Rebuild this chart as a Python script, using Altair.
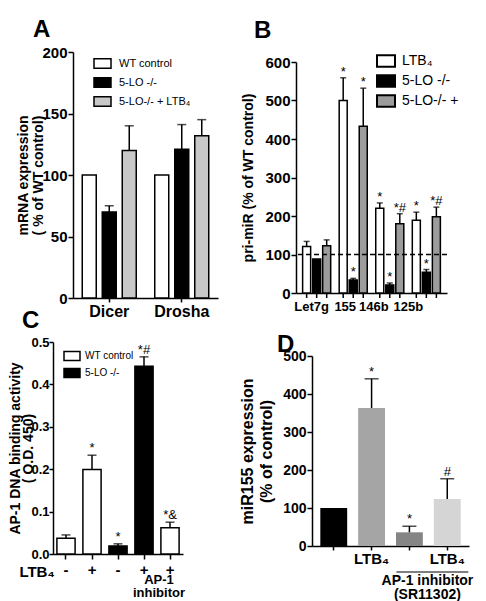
import altair as alt
import pandas as pd

FONT = "Liberation Sans"

# ---------------- Panel A ----------------
a_groups = ["Dicer", "Drosha"]
a_series = ["WT control", "5-LO -/-", "5-LO-/- + LTB₄"]
a_colors = ["#ffffff", "#000000", "#c8c8c8"]
a_dicer = [100, 70, 120]
a_dicer_err = [None, 75, 140]
a_drosha = [100, 121, 132]
a_drosha_err = [None, 141, 145]
a_ticks = [0, 50, 100, 150, 200]

# ---------------- Panel B ----------------
b_groups = ["Let7g", "155", "146b", "125b"]
b_series = ["LTB₄", "5-LO -/-", "5-LO-/- +"]
b_colors = ["#ffffff", "#000000", "#9c9c9c"]
b_ltb4 = [121, 500, 220, 189]
b_ltb4_err = [134, 559, 234, 210]
b_ltb4_sig = ["", "*", "*", "*"]
b_ko = [88, 34, 21, 54]
b_ko_err = [None, 38, 26, 61]
b_ko_sig = ["", "*", "*", "*"]
b_ko_ltb4 = [123, 433, 180, 198]
b_ko_ltb4_err = [138, 532, 206, 223]
b_ko_ltb4_sig = ["", "*", "*#", "*#"]
b_ticks = [0, 100, 200, 300, 400, 500, 600]
b_reference = 100

# ---------------- Panel C ----------------
c_keys = ["WT", "WT + LTB4", "5-LO", "5-LO + LTB4", "WT + LTB4 + AP-1 inhibitor"]
c_ltb4_sign = ["-", "+", "-", "+", "+"]
c_genotype = ["WT control", "WT control", "5-LO -/-", "5-LO -/-", "WT control"]
c_series = ["WT control", "5-LO -/-"]
c_colors = ["#ffffff", "#000000"]
c_values = [0.037, 0.199, 0.019, 0.443, 0.062]
c_err = [0.045, 0.233, 0.024, 0.465, 0.075]
c_sig = ["", "*", "*", "*#", "*&"]
c_ticks = [0.0, 0.1, 0.2, 0.3, 0.4, 0.5]
c_row_label = "LTB₄"
c_note_key = "WT + LTB4 + AP-1 inhibitor"
c_note = "AP-1\ninhibitor"

# ---------------- Panel D ----------------
d_keys = ["Control", "LTB4", "AP-1 inhibitor", "AP-1 inhibitor + LTB4"]
d_labels = ["", "LTB₄", "", "LTB₄"]
d_values = [100, 363, 36, 124]
d_err = [None, 440, 52, 177]
d_sig = ["", "*", "*", "#"]
d_colors = ["#000000", "#a5a5a5", "#858585", "#d5d5d5"]
d_ticks = [0, 100, 200, 300, 400, 500]
d_bracket = ["AP-1 inhibitor", "AP-1 inhibitor + LTB4"]
d_bracket_label = "AP-1 inhibitor\n(SR11302)"


def top_of(v, e):
    return e if e is not None else v


# ---------- tables ----------
recA = []
for g, vals, errs in zip(a_groups, [a_dicer, a_drosha], [a_dicer_err, a_drosha_err]):
    for s, v, e in zip(a_series, vals, errs):
        recA.append({"group": g, "series": s, "value": v, "err": e, "top": top_of(v, e)})
dfA = pd.DataFrame(recA)

recB = []
for i, g in enumerate(b_groups):
    for s, vals, errs, sigs in zip(
        b_series,
        [b_ltb4, b_ko, b_ko_ltb4],
        [b_ltb4_err, b_ko_err, b_ko_ltb4_err],
        [b_ltb4_sig, b_ko_sig, b_ko_ltb4_sig],
    ):
        recB.append({"group": g, "series": s, "value": vals[i], "err": errs[i],
                     "top": top_of(vals[i], errs[i]), "sig": sigs[i]})
dfB = pd.DataFrame(recB)

dfC = pd.DataFrame({"key": c_keys, "geno": c_genotype, "value": c_values, "err": c_err,
                    "top": [top_of(v, e) for v, e in zip(c_values, c_err)], "sig": c_sig})
dfCnote = pd.DataFrame({"key": [c_note_key], "note": [c_note]})
dfCrow = pd.DataFrame({"key": [c_keys[0]], "note": [c_row_label]})

dfD = pd.DataFrame({"key": d_keys, "value": d_values, "err": d_err,
                    "top": [top_of(v, e) for v, e in zip(d_values, d_err)], "sig": d_sig})
dfDbr = pd.DataFrame({"key": [d_bracket[0]], "key2": [d_bracket[1]], "note": [d_bracket_label]})


def label_expr(keys, labels):
    ks = ",".join("'" + k + "'" for k in keys)
    ls = ",".join("'" + l + "'" for l in labels)
    return f"[{ls}][indexof([{ks}], datum.value)]"


# ================= Panel A =================
xA = alt.X("group:N", sort=a_groups,
           scale=alt.Scale(paddingInner=0.2, paddingOuter=0.1),
           axis=alt.Axis(title=None, labelAngle=0, labelFontSize=16, tickSize=4, labelPadding=1))
xoA = alt.XOffset("series:N", sort=a_series, scale=alt.Scale(paddingInner=0.3, paddingOuter=0.1))
axA = alt.Axis(values=a_ticks, title=["mRNA expression", "( % of WT control)"], titlePadding=-4,
               labelFontSize=15, labelPadding=1, titleFontSize=14, titleLineHeight=15)
scA = alt.Scale(domain=[0, 200])
baseA = alt.Chart(dfA)
barsA = baseA.mark_bar(stroke="black", strokeWidth=1.5).encode(
    x=xA, xOffset=xoA, y=alt.Y("value:Q", scale=scA, axis=axA),
    fill=alt.Fill("series:N", sort=a_series, scale=alt.Scale(domain=a_series, range=a_colors),
                  legend=alt.Legend(title=None, orient="none", legendX=20, legendY=2,
                                    symbolType="M-1,-0.55H1V0.55H-1Z", symbolSize=289,
                                    symbolStrokeColor="black", symbolStrokeWidth=1.5,
                                    labelFont=FONT, labelFontSize=11, labelColor="black",
                                    rowPadding=1, padding=0, labelOffset=7)))
errA = baseA.transform_filter("isValid(datum.err)").mark_rule(color="black", strokeWidth=1.5).encode(
    x=xA, xOffset=xoA, y=alt.Y("value:Q", scale=scA, axis=axA), y2="err:Q")
capA = baseA.transform_filter("isValid(datum.err)").mark_tick(
    orient="horizontal", size=9, thickness=1.5, color="black").encode(
    x=xA, xOffset=xoA, y=alt.Y("err:Q", scale=scA, axis=axA))
A = alt.layer(barsA, errA, capA).properties(
    width=145, height=246,
    title=alt.TitleParams("A", anchor="start", frame="group", dx=-40, offset=3))

# ================= Panel B =================
xB = alt.X("group:N", sort=b_groups,
           scale=alt.Scale(paddingInner=0.15, paddingOuter=0.14),
           axis=alt.Axis(title=None, labelAngle=0, ticks=False, offset=-5, labelFontSize=13,
                         labelPadding=7,
                         labelOffset={"condition": [
                             {"test": "datum.value === '155'", "value": -8},
                             {"test": "datum.value === '146b'", "value": -16},
                             {"test": "datum.value === '125b'", "value": -18}],
                             "value": -5}))
xoB = alt.XOffset("series:N", sort=b_series, scale=alt.Scale(paddingInner=0.2, paddingOuter=0.15))
scB = alt.Scale(domain=[0, 600], range=[241, 10])
axB = alt.Axis(values=b_ticks, title="pri-miR (% of WT control)", titlePadding=9,
               labelFontSize=15, labelPadding=1, titleFontSize=14)
baseB = alt.Chart(dfB)
barsB = baseB.mark_bar(stroke="black", strokeWidth=1.5).encode(
    x=xB, xOffset=xoB, y=alt.Y("value:Q", scale=scB, axis=axB),
    fill=alt.Fill("series:N", sort=b_series, scale=alt.Scale(domain=b_series, range=b_colors),
                  legend=alt.Legend(title=None, orient="none", legendX=80, legendY=-1,
                                    symbolType="M-1,-0.65H1V0.65H-1Z", symbolSize=324,
                                    symbolStrokeColor="black", symbolStrokeWidth=2,
                                    labelFont=FONT, labelFontSize=14, labelColor="black",
                                    rowPadding=0, padding=0, labelOffset=6)))
errB = baseB.transform_filter("isValid(datum.err)").mark_rule(color="black", strokeWidth=1.5).encode(
    x=xB, xOffset=xoB, y=alt.Y("value:Q", scale=scB, axis=axB), y2="err:Q")
capB = baseB.transform_filter("isValid(datum.err)").mark_tick(
    orient="horizontal", size=6, thickness=1.5, color="black").encode(
    x=xB, xOffset=xoB, y=alt.Y("err:Q", scale=scB, axis=axB))
sigB = baseB.mark_text(baseline="alphabetic", dy=-2, fontSize=13, color="black").encode(
    x=xB, xOffset=xoB, y=alt.Y("top:Q", scale=scB, axis=axB), text="sig:N")
tickB = baseB.mark_rule(color="black", strokeWidth=1.5).encode(
    x=xB, xOffset=xoB, y=alt.datum(0), y2=alt.datum(-13))
refB = alt.Chart(pd.DataFrame({"ref": [b_reference]})).mark_rule(
    color="black", strokeWidth=1.5, strokeDash=[5, 3]).encode(y=alt.Y("ref:Q", scale=scB, axis=axB))
B = alt.layer(barsB, errB, capB, sigB, tickB, refB).properties(
    width=151, height=246,
    title=alt.TitleParams("B", anchor="start", frame="group", dx=-42, offset=8))

# ================= Panel C =================
xC = alt.X("key:N", sort=c_keys,
           scale=alt.Scale(range=[-20, 110], paddingInner=0.3, paddingOuter=0.15),
           axis=alt.Axis(title=None, labelAngle=0,
                         labelExpr=label_expr(c_keys, c_ltb4_sign), labelFontSize=15,
                         labelPadding=3))
scC = alt.Scale(domain=[0, 0.5])
axC = alt.Axis(values=c_ticks, format=".1f", offset=20, tickSize=4, labelPadding=0,
               labelFontSize=13, titleFontSize=14, titleLineHeight=13,
               title=["AP-1  DNA binding activity", "( O.D. 450)"], titlePadding=-5)
baseC = alt.Chart(dfC)
barsC = baseC.mark_bar(stroke="black", strokeWidth=1.5).encode(
    x=xC, y=alt.Y("value:Q", scale=scC, axis=axC),
    fill=alt.Fill("geno:N", sort=c_series, scale=alt.Scale(domain=c_series, range=c_colors),
                  legend=alt.Legend(title=None, orient="none", legendX=-10, legendY=5,
                                    symbolType="M-1,-0.56H1V0.56H-1Z", symbolSize=256,
                                    symbolStrokeColor="black", symbolStrokeWidth=1.5,
                                    labelFont=FONT, labelFontSize=10, labelColor="black",
                                    rowPadding=0, padding=0, labelOffset=4)))
errC = baseC.mark_rule(color="black", strokeWidth=1.5).encode(
    x=xC, y=alt.Y("value:Q", scale=scC, axis=axC), y2="err:Q")
capC = baseC.mark_tick(orient="horizontal", size=9, thickness=1.5, color="black").encode(
    x=xC, y=alt.Y("err:Q", scale=scC, axis=axC))
sigC = baseC.mark_text(baseline="alphabetic", dy=-3, fontSize=13, color="black").encode(
    x=xC, y=alt.Y("top:Q", scale=scC, axis=axC), text="sig:N")
rowC = alt.Chart(dfCrow).mark_text(baseline="middle", align="center", dy=18, dx=-29, fontSize=15,
                                   fontWeight="bold", color="black").encode(
    x=xC, y=alt.datum(0), text="note:N")
noteC = alt.Chart(dfCnote).mark_text(baseline="top", dy=20, dx=-11, fontSize=13, fontWeight="bold",
                                     lineBreak="\n", lineHeight=13, color="black").encode(
    x=xC, y=alt.datum(0), text="note:N")
C = alt.layer(barsC, errC, capC, sigC, rowC, noteC).properties(
    width=145, height=212,
    title=alt.TitleParams("C", anchor="start", frame="group", dx=-51, offset=3))

# ================= Panel D =================
xD = alt.X("key:N", sort=d_keys,
           scale=alt.Scale(range=[16, 173], paddingInner=0.29, paddingOuter=0.22),
           axis=alt.Axis(title=None, labelAngle=0, offset=-8, tickSize=4, labelPadding=1,
                         labelExpr=label_expr(d_keys, d_labels), labelFontSize=15))
scD = alt.Scale(domain=[0, 500], range=[204, 14])
axD = alt.Axis(values=d_ticks, offset=-16, title=["miR155 expression", "(% of control)"],
               titlePadding=8, labelFontSize=14, labelPadding=1, titleFontSize=16,
               titleLineHeight=19)
baseD = alt.Chart(dfD)
barsD = baseD.mark_bar(strokeWidth=0).encode(
    x=xD, y=alt.Y("value:Q", scale=scD, axis=axD),
    fill=alt.Fill("key:N", sort=d_keys, scale=alt.Scale(domain=d_keys, range=d_colors), legend=None))
errD = baseD.transform_filter("isValid(datum.err)").mark_rule(color="black", strokeWidth=1.5).encode(
    x=xD, y=alt.Y("value:Q", scale=scD, axis=axD), y2="err:Q")
capD = baseD.transform_filter("isValid(datum.err)").mark_tick(
    orient="horizontal", size=14, thickness=1.5, color="black").encode(
    x=xD, y=alt.Y("err:Q", scale=scD, axis=axD))
sigD = baseD.mark_text(baseline="alphabetic", dy=-3, fontSize=13, color="black").encode(
    x=xD, y=alt.Y("top:Q", scale=scD, axis=axD), text="sig:N")
brD = alt.Chart(dfDbr).mark_rule(color="black", strokeWidth=1.2, xOffset=-13, x2Offset=21,
                                 yOffset=26).encode(x=xD, x2="key2:N", y=alt.datum(0))
brTextD = alt.Chart(dfDbr).mark_text(baseline="top", dy=28, dx=18, fontSize=14, fontWeight="bold",
                                     lineBreak="\n", lineHeight=14, color="black").encode(
    x=xD, y=alt.datum(0), text="note:N")
D = alt.layer(barsD, errD, capD, sigD, brD, brTextD).properties(
    width=173, height=212,
    title=alt.TitleParams("D", anchor="start", frame="group", dx=-19, offset=6, dy=21))

res = dict(x="independent", y="independent", fill="independent", xOffset="independent")
chart = alt.concat(A, B, C, D, columns=2, bounds="flush",
                   spacing={"row": 44, "column": 78}).resolve_scale(**res).properties(
    padding={"left": 0, "top": 10, "right": 0, "bottom": 0}
).configure(font=FONT).configure_view(stroke=None).configure_axis(
    domainColor="black", domainWidth=1.5, tickColor="black", tickWidth=1.5, tickSize=5,
    labelColor="black", labelFont=FONT, labelFontSize=14, labelFontWeight="bold",
    titleColor="black", titleFont=FONT, titleFontSize=15, titleFontWeight="bold",
    grid=False, labelPadding=2
).configure_title(font=FONT, fontSize=24, fontWeight="bold", color="black", anchor="start")

chart.save("out.html", embed_options={"renderer": "svg", "actions": False})
